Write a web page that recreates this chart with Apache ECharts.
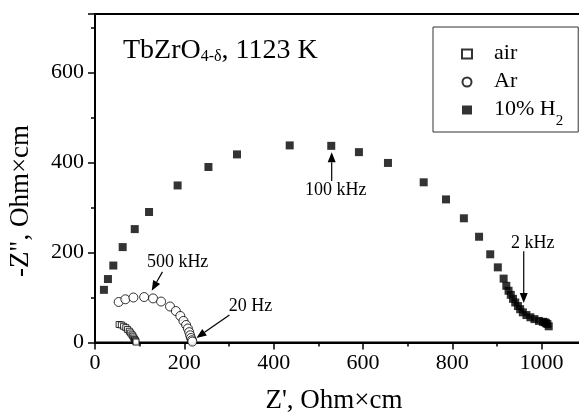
<!DOCTYPE html>
<html><head><meta charset="utf-8">
<script src="https://cdn.jsdelivr.net/npm/echarts@6.0.0/dist/echarts.min.js"></script>
<style>html,body{margin:0;padding:0;background:#fff}#c{width:579px;height:414px}</style>
</head><body><div id="c"></div>
<script>
// ---- data ----
const seriesNames = ['air', 'Ar', '10% H2'];
const airX = [54, 59, 64, 69, 73, 77, 80, 83, 85, 87, 88.5, 90, 91, 92];
const airY = [40, 39, 36, 33, 29, 25, 21, 17, 14, 10, 7, 5, 3, 1];
const arX = [53, 68, 86, 110, 130, 148, 168, 181, 191, 198, 204, 208, 211, 213, 215, 217, 218];
const arY = [90, 96, 100, 101, 98, 91, 80, 70, 59, 48, 39, 31, 23, 16, 10, 5, 2];
const h2X = [20, 29, 41, 62, 89, 121, 185, 254, 318, 436, 529, 591, 656, 736, 786, 826, 860, 885, 902, 915, 921, 926, 931, 936, 941, 947, 952, 958, 966, 975, 984, 994, 1003, 1007, 1010, 1013, 1016];
const h2Y = [117, 141, 171, 212, 252, 290, 349, 390, 418, 438, 437, 423, 399, 356, 318, 276, 235, 196, 167, 142, 126, 115, 106, 97, 89, 81, 74, 67, 61, 56, 52, 48, 46, 45, 43, 41, 36];
const xTickLabels = [0, 200, 400, 600, 800, 1000];
const yTickLabels = [0, 200, 400, 600];
const annoText = ['500 kHz', '20 Hz', '100 kHz', '2 kHz'];
const annoTextAt = [[185, 179], [348, 81], [539, 339], [980, 221]];
const annoFrom = [[151, 157], [301, 61], [530, 359], [960, 203]];
const annoTo = [[127, 115], [227, 10], [530, 423], [960, 88]];

const FONT = '"Liberation Serif", "Times New Roman", serif';
const pairs = (xs, ys) => xs.map((x, i) => [x, ys[i]]);
const labelFmt = list => v => (list.indexOf(v) >= 0 ? String(v) : '');

const chart = echarts.init(document.getElementById('c'), null, {renderer: 'canvas'});
const option = {
  backgroundColor: '#fff',
  animation: false,
  title: {
    text: '{a|TbZrO}{s|4-δ}{a|, 1123 K}',
    left: 123, top: 29, padding: 0,
    textStyle: {
      fontWeight: 'normal',
      rich: {
        a: {fontFamily: FONT, fontSize: 28, fontWeight: 'normal', color: '#000', lineHeight: 36, verticalAlign: 'bottom'},
        s: {fontFamily: FONT, fontSize: 16, fontWeight: 'normal', color: '#000', lineHeight: 12, verticalAlign: 'bottom'}
      }
    }
  },
  legend: {
    orient: 'vertical',
    left: 433, top: 27,
    padding: [5, 15, 0, 28],
    itemGap: -16,
    itemWidth: 10, itemHeight: 9,
    borderColor: '#333', borderWidth: 1,
    backgroundColor: '#fff',
    data: seriesNames,
    formatter: name => name === '10% H2' ? '{t|10% H}{s|2}' : '{t|' + name + '}',
    textStyle: {
      rich: {
        t: {fontFamily: FONT, fontSize: 22, color: '#000', lineHeight: 22, padding: [10, 0, 12, 17]},
        s: {fontFamily: FONT, fontSize: 15, color: '#000', lineHeight: 22, padding: [22, 0, 0, 0]}
      }
    }
  },
  grid: {left: 95, top: 14, width: 485, height: 328.5, containLabel: false, outerBoundsMode: 'none',
         show: true, borderColor: '#000', borderWidth: 2, backgroundColor: 'transparent'},
  xAxis: {
    type: 'value', min: 0, max: 1086, interval: 200,
    axisLine: {show: true, onZero: false, lineStyle: {color: '#000', width: 2}},
    axisTick: {show: true, inside: false, length: 7, lineStyle: {color: '#000', width: 1.5}},
    minorTick: {show: true, splitNumber: 2, length: 4, lineStyle: {color: '#000', width: 1.5}},
    splitLine: {show: false}, minorSplitLine: {show: false},
    axisLabel: {fontFamily: FONT, fontSize: 22, color: '#000', margin: 10, formatter: labelFmt(xTickLabels), showMaxLabel: false}
  },
  yAxis: {
    type: 'value', min: 0, max: 730, interval: 200,
    axisLine: {show: true, onZero: false, lineStyle: {color: '#000', width: 2}},
    axisTick: {show: true, inside: false, length: 7, lineStyle: {color: '#000', width: 1.5}},
    minorTick: {show: true, splitNumber: 2, length: 4, lineStyle: {color: '#000', width: 1.5}},
    splitLine: {show: false}, minorSplitLine: {show: false},
    axisLabel: {fontFamily: FONT, fontSize: 22, color: '#000', margin: 11, formatter: labelFmt(yTickLabels), showMaxLabel: false}
  },
  series: [
    {name: seriesNames[0], type: 'scatter', symbol: 'rect', symbolSize: 6, data: pairs(airX, airY),
     itemStyle: {color: '#fff', borderColor: '#000', borderWidth: 1}},
    {name: seriesNames[1], type: 'scatter', symbol: 'circle', symbolSize: 9, data: pairs(arX, arY),
     itemStyle: {color: '#fff', borderColor: '#000', borderWidth: 1}},
    {name: seriesNames[2], type: 'scatter', symbol: 'rect', symbolSize: 8, data: pairs(h2X, h2Y),
     itemStyle: {color: '#000', borderColor: '#000', borderWidth: 0}}
  ]
};
chart.setOption(option);

const g = [];
annoText.forEach((txt, i) => {
  const p = chart.convertToPixel({gridIndex: 0}, annoTextAt[i]);
  g.push({type: 'text', x: p[0], y: p[1], z: 10,
    style: {text: txt, fontSize: 18, fontFamily: FONT, fill: '#000', align: 'center', verticalAlign: 'middle'}});
  const s = chart.convertToPixel({gridIndex: 0}, annoFrom[i]);
  const e = chart.convertToPixel({gridIndex: 0}, annoTo[i]);
  const dx = e[0] - s[0], dy = e[1] - s[1], L = Math.hypot(dx, dy), ux = dx / L, uy = dy / L;
  const hl = 10, hw = 4;
  const bx = e[0] - ux * hl, by = e[1] - uy * hl;
  g.push({type: 'line', z: 10, shape: {x1: s[0], y1: s[1], x2: bx, y2: by}, style: {stroke: '#000', lineWidth: 1.2}});
  g.push({type: 'polygon', z: 10, shape: {points: [[e[0], e[1]], [bx - uy * hw, by + ux * hw], [bx + uy * hw, by - ux * hw]]}, style: {fill: '#000'}});
});
g.push({type: 'text', x: 334, y: 401, style: {text: "Z', Ohm×cm", fontSize: 27, fontFamily: FONT, fill: '#000', align: 'center', verticalAlign: 'middle'}});
g.push({type: 'text', x: 21, y: 201, rotation: Math.PI / 2, style: {text: '-Z", Ohm×cm', fontSize: 27, fontFamily: FONT, fill: '#000', align: 'center', verticalAlign: 'middle'}});
chart.setOption({graphic: g});
</script>
</body></html>
